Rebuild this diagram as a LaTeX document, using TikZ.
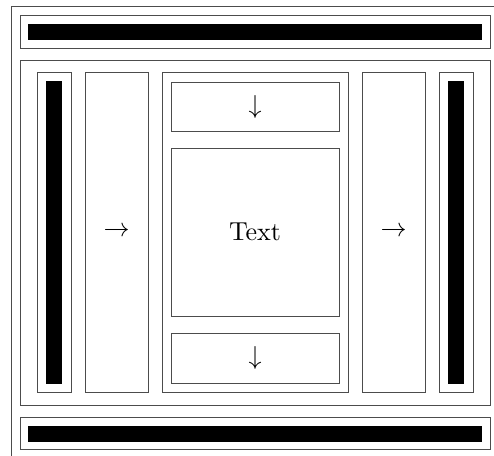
\documentclass[tikz,border=0pt]{standalone}
\usetikzlibrary{fit}
\tikzset{
    frame/.style={draw=black!70, line width=0.35pt, inner sep=0pt},
    bar/.style={fill=black, inner sep=0pt}
}
\begin{document}
\begin{tikzpicture}[x=0.3846pt, y=-0.3846pt]
    \useasboundingbox (0,0) rectangle (494,456);
    \clip (0,0) rectangle (494,456);
    \node[frame, fit={(11,6) (520,480)}] (outer) {};
    % header and footer
    \node[frame, fit={(20,15) (490,48)}] (header) {};
    \node[bar, fit={(28,24) (482,40)}] (headbar) {};
    \node[frame, fit={(20,417) (490,449)}] (footer) {};
    \node[bar, fit={(28,426) (482,442)}] (footbar) {};
    % main area
    \node[frame, fit={(20,60) (490,405)}] (main) {};
    \node[frame, fit={(37,72) (71,392)}] (leftcol) {};
    \node[bar, fit={(46,81) (62,384)}] (leftbar) {};
    \node[frame, fit={(85,72) (148,392)}, label=center:$\rightarrow$] (leftarrow) {};
    \node[frame, fit={(162,72) (348,392)}] (center) {};
    \node[frame, fit={(171,82) (339,131)}, label=center:$\downarrow$] (topbox) {};
    \node[frame, fit={(171,148) (339,316)}, label=center:Text] (textbox) {};
    \node[frame, fit={(171,333) (339,383)}, label=center:$\downarrow$] (botbox) {};
    \node[frame, fit={(362,72) (425,392)}, label=center:$\rightarrow$] (rightarrow) {};
    \node[frame, fit={(439,72) (473,392)}] (rightcol) {};
    \node[bar, fit={(448,81) (464,384)}] (rightbar) {};
\end{tikzpicture}
\end{document}
